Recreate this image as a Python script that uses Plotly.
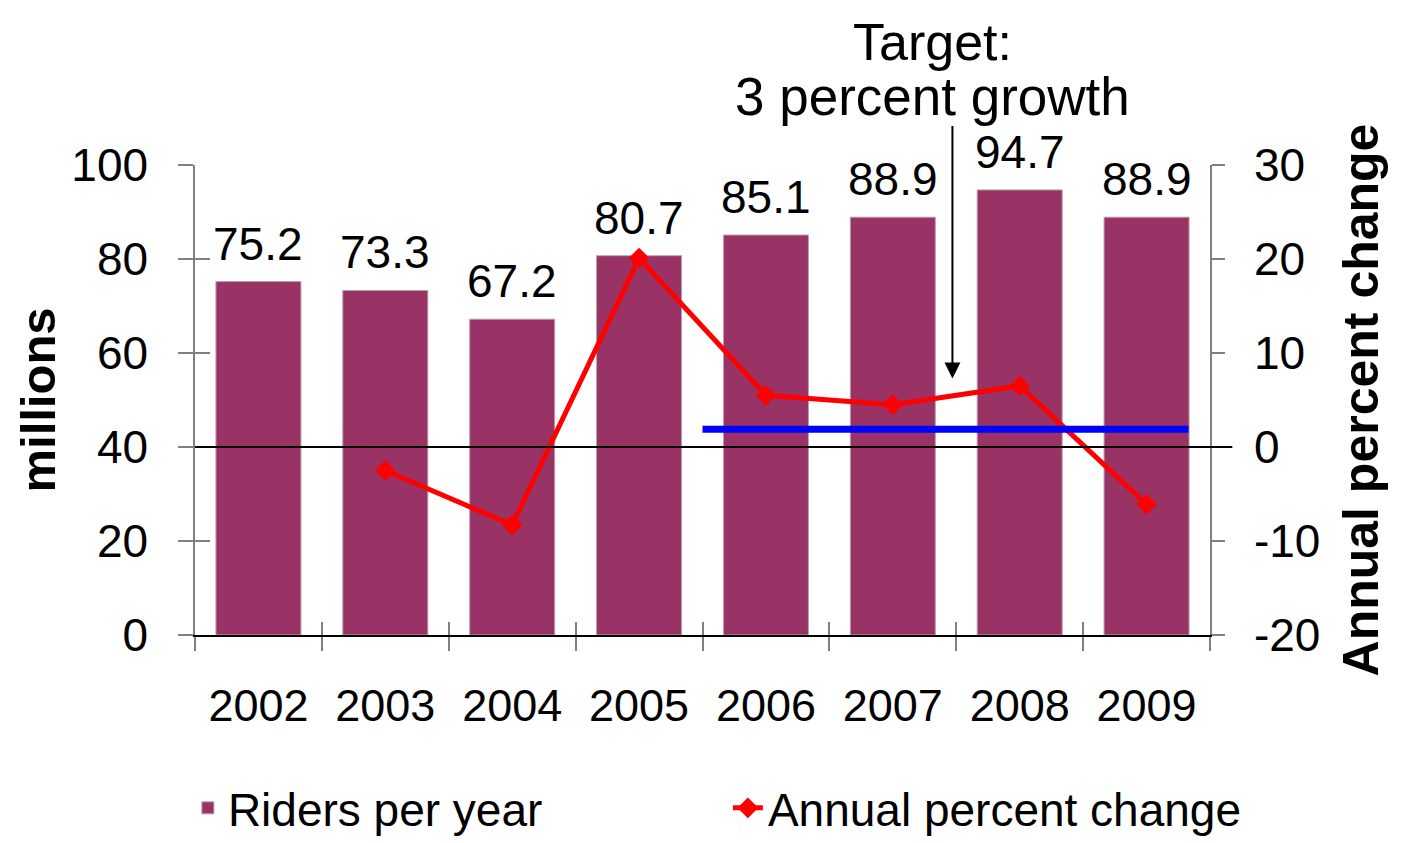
import plotly.graph_objects as go

years = ['2002', '2003', '2004', '2005', '2006', '2007', '2008', '2009']
riders = [75.2, 73.3, 67.2, 80.7, 85.1, 88.9, 94.7, 88.9]
pct_change = [None, -2.5, -8.3, 20.1, 5.5, 4.5, 6.5, -6.1]
target_pct = 1.9
target_span = [3.5, 7.33]   # category positions covered by the target line
left_ticks = [0, 20, 40, 60, 80, 100]
right_ticks = [-20, -10, 0, 10, 20, 30]

FONT = 'Liberation Sans, Arial, sans-serif'
BAR_COLOR = '#993366'

fig = go.Figure()

fig.add_trace(go.Bar(
    x=years, y=riders, name='Riders per year',
    marker=dict(color=BAR_COLOR, line=dict(color='#b8a0ac', width=1)),
    yaxis='y',
))
fig.add_trace(go.Scatter(
    x=years, y=pct_change, name='Annual percent change',
    mode='lines+markers',
    line=dict(color='#ff0000', width=5),
    marker=dict(symbol='diamond', size=16, color='#ff0000'),
    yaxis='y2',
))

# value labels above bars
for i, v in enumerate(riders):
    fig.add_annotation(x=i, y=v, xref='x', yref='y', text=f'{v:.1f}',
                       showarrow=False, yanchor='bottom', xanchor='center',
                       yshift=10,
                       font=dict(size=46, color='black', family=FONT))

# target line + zero line
fig.add_shape(type='line', xref='x', yref='y2',
              x0=target_span[0], x1=target_span[1], y0=target_pct, y1=target_pct,
              line=dict(color='#0000ff', width=7))
fig.add_shape(type='line', xref='paper', yref='y2', x0=0, x1=1.022, y0=0, y1=0,
              line=dict(color='black', width=2))

# target callout
fig.add_annotation(xref='paper', yref='paper', x=0.727, y=1.262,
                   xanchor='center', yanchor='middle',
                   text='Target:', showarrow=False,
                   font=dict(size=52, color='black', family=FONT))
fig.add_annotation(xref='paper', yref='paper', x=0.727, y=1.1447,
                   xanchor='center', yanchor='middle',
                   text='3 percent growth', showarrow=False,
                   font=dict(size=53, color='black', family=FONT))
fig.add_annotation(xref='x', yref='y2', x=5.47, y=7.3, text='',
                   showarrow=True, axref='pixel', ayref='pixel', ax=0, ay=-254,
                   arrowhead=2, arrowsize=1.6, arrowwidth=2, arrowcolor='black')

fig.update_layout(
    width=1394, height=835,
    margin=dict(l=187, r=192, t=157, b=208, autoexpand=False),
    paper_bgcolor='white', plot_bgcolor='white',
    font=dict(family=FONT, color='black', size=46),
    bargap=0.33,
    showlegend=True,
    legend=dict(orientation='h', x=-0.007, y=-0.368, yanchor='middle',
                xanchor='left', font=dict(size=46), entrywidth=495,
                traceorder='normal'),
    xaxis=dict(type='category', categoryarray=years, range=[-0.5, 7.5],
               showline=True, linecolor='black', linewidth=1.5,
               ticks='outside', tickson='boundaries', ticklen=14,
               tickcolor='#808080', tickwidth=1.5,
               tickfont=dict(size=45), ticklabelstandoff=30,
               showgrid=False, zeroline=False),
    xaxis2=dict(overlaying='x', range=[-0.5, 7.5], tick0=-0.5, dtick=1,
                ticks='inside', ticklen=13, tickcolor='#808080', tickwidth=1.5,
                showticklabels=False, showline=False, showgrid=False,
                zeroline=False, anchor='y', side='bottom'),
    yaxis=dict(range=[0, 100], tickvals=left_ticks,
               ticktext=[str(t) for t in left_ticks],
               showline=True, linecolor='#808080',
               linewidth=1.5, ticks='outside', ticklen=15, tickcolor='#808080',
               tickwidth=1.5, tickfont=dict(size=46), ticklabelstandoff=21,
               showgrid=False, zeroline=False,
               title=dict(text='<b>millions</b>', font=dict(size=49), standoff=0)),
    yaxis3=dict(overlaying='y', range=[0, 100], dtick=20, ticks='inside',
                ticklen=15, tickcolor='#808080', tickwidth=1.5,
                showticklabels=False, showline=False, showgrid=False,
                zeroline=False, anchor='x'),
    yaxis2=dict(overlaying='y', side='right', range=[-20, 30],
                tickvals=right_ticks, ticktext=[str(t) for t in right_ticks],
                showline=True, linecolor='#808080', linewidth=1.5,
                ticks='outside', ticklen=13, tickcolor='#808080', tickwidth=1.5,
                tickfont=dict(size=46), ticklabelstandoff=20,
                showgrid=False, zeroline=False,
                title=dict(text='<b>Annual percent change</b>',
                           font=dict(size=50), standoff=24)),
)

# invisible helper traces so overlay tick axes render
fig.add_trace(go.Scatter(x=[None], y=[None], xaxis='x2', yaxis='y', showlegend=False, hoverinfo='skip'))
fig.add_trace(go.Scatter(x=[None], y=[None], xaxis='x', yaxis='y3', showlegend=False, hoverinfo='skip'))

fig.write_html('out.html')
